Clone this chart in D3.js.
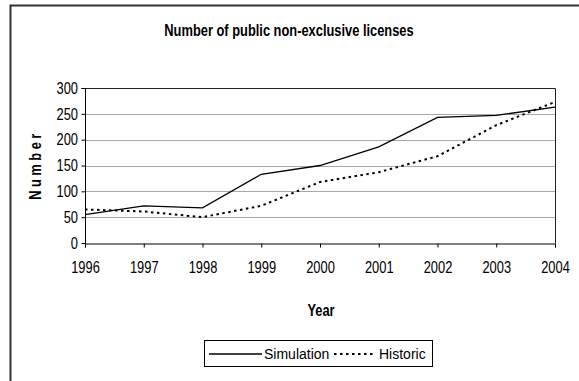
<!DOCTYPE html>
<html>
<head>
<meta charset="utf-8">
<script src="https://cdn.jsdelivr.net/npm/d3@7"></script>
<style>
  body { margin: 0; background: #fff; }
  svg text { font-family: "Liberation Sans", Arial, sans-serif; fill: #000; }
</style>
</head>
<body>
<svg id="chart" width="579" height="381"></svg>
<script>
// chart values
const years = [1996, 1997, 1998, 1999, 2000, 2001, 2002, 2003, 2004];
const simulation = [55, 72, 68, 133, 150, 186, 243, 247, 263];
const historic = [65, 61, 50, 72, 118, 137, 168, 228, 273];
const yTicks = [0, 50, 100, 150, 200, 250, 300];

const svg = d3.select('#chart');
const squeeze = 0.78; // text in the original is horizontally condensed
const fontSize = '16.5px';

// outer frame (only left and top edges visible)
svg.append('path')
    .attr('d', 'M10.5,381 V5.5 H579')
    .attr('fill', 'none')
    .attr('stroke', '#333')
    .attr('stroke-width', 2);

const plot = {left: 85, right: 555, top: 88, bottom: 243};

const x = d3.scaleLinear()
    .domain([years[0], years[years.length - 1]])
    .range([plot.left, plot.right]);
const y = d3.scaleLinear()
    .domain([0, 300])
    .range([plot.bottom, plot.top]);

// gridlines
svg.append('g')
    .selectAll('line')
    .data(yTicks.slice(1))
    .enter().append('line')
    .attr('x1', plot.left).attr('x2', plot.right)
    .attr('y1', d => Math.round(y(d)) + 0.5)
    .attr('y2', d => Math.round(y(d)) + 0.5)
    .attr('stroke', '#a8a8a8');

// plot border top/right
svg.append('path')
    .attr('d', `M${plot.left},${plot.top + 0.5} H${plot.right + 0.5} V${plot.bottom}`)
    .attr('fill', 'none')
    .attr('stroke', '#222');

// axes
const xAxis = d3.axisBottom(x)
    .tickValues(years)
    .tickFormat(d3.format('d'))
    .tickSize(4);
const xg = svg.append('g')
    .attr('transform', `translate(0,${plot.bottom + 0.5})`)
    .call(xAxis);

const yAxis = d3.axisLeft(y)
    .tickValues(yTicks)
    .tickSize(4);
const yg = svg.append('g')
    .attr('transform', `translate(${plot.left + 0.5},0)`)
    .call(yAxis);

[xg, yg].forEach(g => {
    g.select('.domain').attr('stroke', '#000');
    g.selectAll('.tick line').attr('stroke', '#000');
    g.selectAll('.tick text')
        .style('font-family', '"Liberation Sans", Arial, sans-serif')
        .style('font-size', fontSize)
        .attr('fill', '#000')
        .attr('transform', `scale(${squeeze},1)`);
});
xg.selectAll('.tick text').attr('y', 18);
yg.selectAll('.tick text').attr('x', -7.5 / squeeze);
yg.select('.domain').attr('d', `M-4,${plot.top + 0.5}H0V${plot.bottom + 0.5}`);

// lines
const line = d3.line()
    .x((d, i) => x(years[i]))
    .y(d => y(d));

svg.append('path')
    .datum(simulation)
    .attr('d', line)
    .attr('fill', 'none')
    .attr('stroke', '#000')
    .attr('stroke-width', 1.3);

svg.append('path')
    .datum(historic)
    .attr('d', line)
    .attr('fill', 'none')
    .attr('stroke', '#000')
    .attr('stroke-width', 2)
    .attr('stroke-dasharray', '2.5,3.5');

// titles
function label(px, py, txt, rotate, spacing) {
    return svg.append('text')
        .attr('transform', `translate(${px},${py})` + (rotate ? ' rotate(-90)' : '') + ` scale(${squeeze},1)`)
        .attr('text-anchor', 'middle')
        .style('font-weight', 'bold')
        .style('font-size', fontSize)
        .style('letter-spacing', spacing || null)
        .text(txt);
}
label(289, 36, 'Number of public non-exclusive licenses');
label(321, 316, 'Year');
label(41, 165, 'Number', true, '4.5px');

// legend
const legend = svg.append('g');
legend.append('rect')
    .attr('x', 204.5).attr('y', 340.5)
    .attr('width', 228).attr('height', 26)
    .attr('fill', '#fff')
    .attr('stroke', '#000');
legend.append('line')
    .attr('x1', 209).attr('x2', 262)
    .attr('y1', 354).attr('y2', 354)
    .attr('stroke', '#000').attr('stroke-width', 1.3);
legend.append('text')
    .attr('x', 264).attr('y', 358.5)
    .style('font-size', '14px')
    .text('Simulation');
legend.append('line')
    .attr('x1', 334).attr('x2', 376)
    .attr('y1', 354).attr('y2', 354)
    .attr('stroke', '#000').attr('stroke-width', 2)
    .attr('stroke-dasharray', '2.5,3.5');
legend.append('text')
    .attr('x', 379).attr('y', 358.5)
    .style('font-size', '14px')
    .text('Historic');
</script>
</body>
</html>
